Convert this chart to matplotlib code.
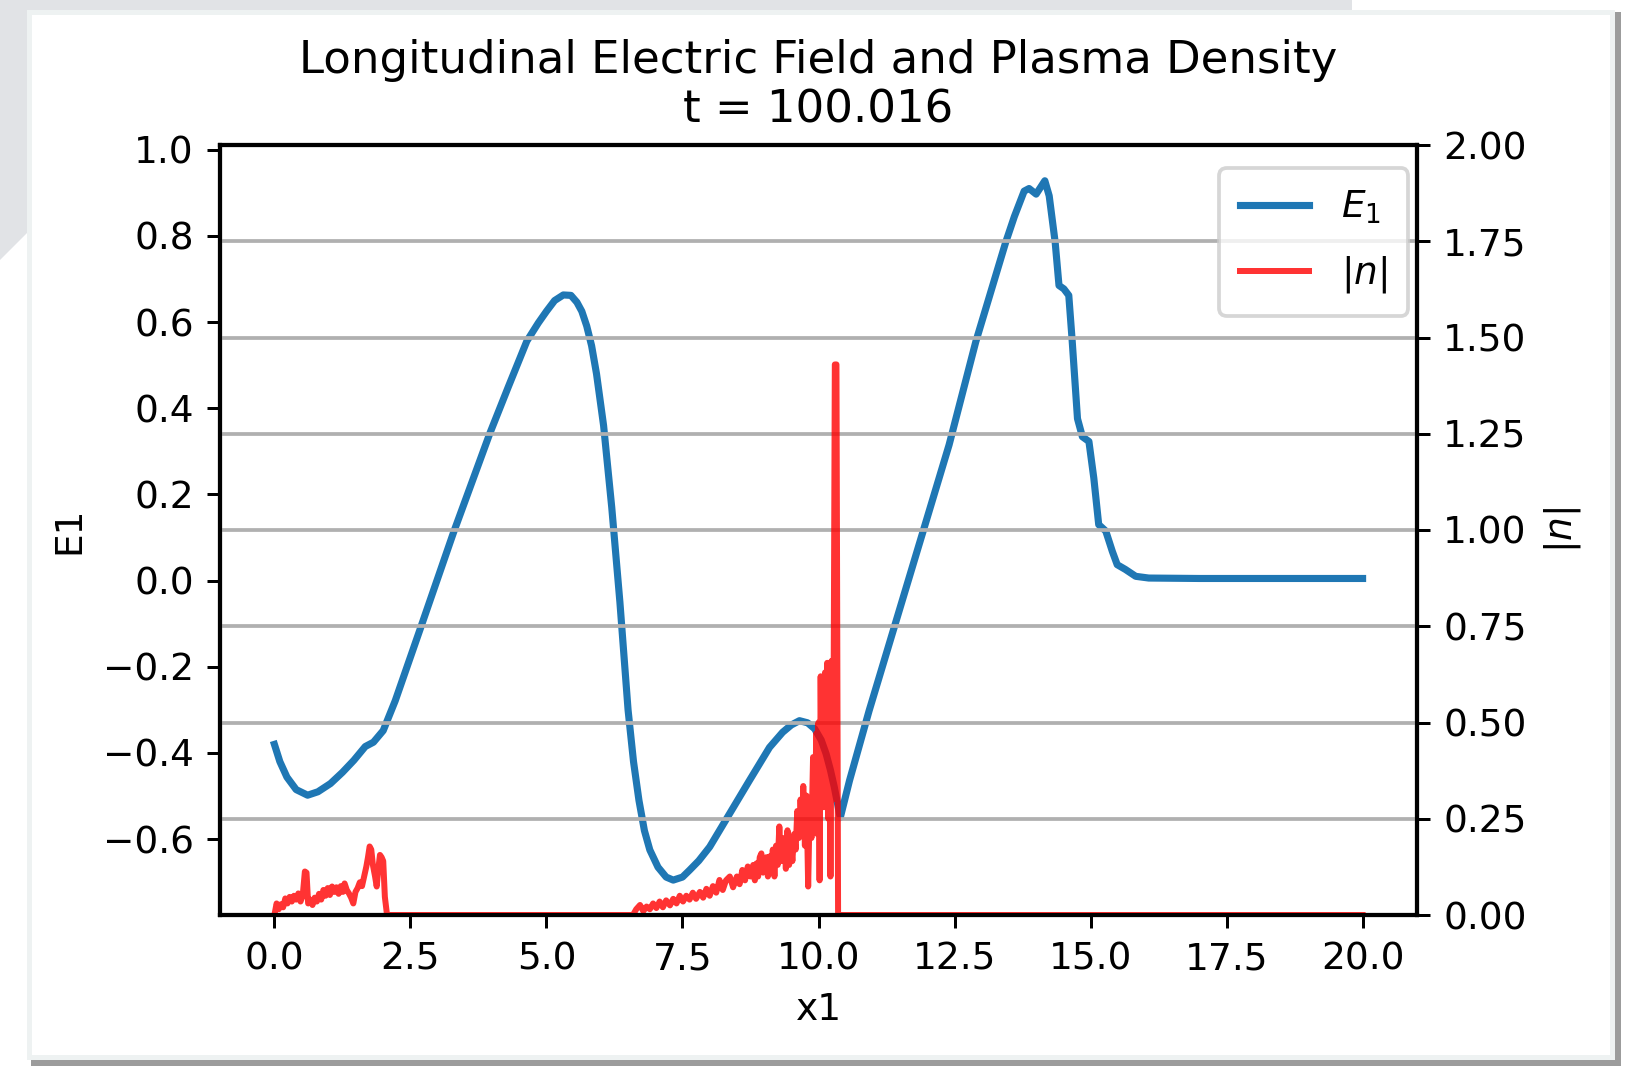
import matplotlib
matplotlib.use("Agg")
import matplotlib.pyplot as plt
from matplotlib.patches import Rectangle, Polygon

# E1 (left axis)
x_e = [0.0, 0.1, 0.23, 0.4, 0.61, 0.8, 1.03, 1.25, 1.46, 1.67, 1.82, 2.0,
       2.22, 2.68, 3.29, 3.96, 4.3, 4.64, 4.85, 5.0, 5.15, 5.31, 5.45, 5.56,
       5.65, 5.74, 5.83, 5.92, 6.05, 6.2, 6.35, 6.5, 6.6, 6.7, 6.8, 6.9, 7.05,
       7.2, 7.33, 7.5, 7.63, 7.8, 8.0, 8.37, 8.73, 9.1, 9.34, 9.5, 9.65, 9.8,
       9.93, 10.05, 10.14, 10.22, 10.29, 10.4, 10.57, 10.93, 12.40, 12.89,
       13.44, 13.6, 13.78, 13.87, 14.0, 14.16, 14.24, 14.35, 14.42, 14.51,
       14.6, 14.66, 14.76, 14.85, 14.97, 15.06, 15.15, 15.28, 15.40, 15.49,
       15.64, 15.83, 16.07, 17.0, 18.0, 19.0, 20.0]
e1 = [-0.38, -0.42, -0.456, -0.485, -0.498, -0.49, -0.471, -0.445, -0.417,
      -0.385, -0.375, -0.348, -0.279, -0.112, 0.111, 0.342, 0.45, 0.556,
      0.598, 0.625, 0.65, 0.663, 0.662, 0.646, 0.625, 0.591, 0.545, 0.48,
      0.36, 0.17, -0.05, -0.3, -0.42, -0.51, -0.58, -0.625, -0.665, -0.688,
      -0.695, -0.688, -0.672, -0.65, -0.618, -0.54, -0.464, -0.387, -0.352,
      -0.335, -0.325, -0.33, -0.344, -0.37, -0.402, -0.44, -0.479, -0.55,
      -0.464, -0.302, 0.315, 0.554, 0.785, 0.845, 0.904, 0.910, 0.897, 0.928,
      0.893, 0.785, 0.685, 0.677, 0.662, 0.561, 0.376, 0.334, 0.323, 0.238,
      0.13, 0.115, 0.068, 0.037, 0.026, 0.01, 0.006, 0.005, 0.005, 0.005,
      0.005]

# |n| (right axis)
x_n = [0.0, 0.04, 0.08, 0.12, 0.16, 0.2, 0.24, 0.28, 0.32, 0.36, 0.4, 0.44,
       0.48, 0.52, 0.56, 0.59, 0.62, 0.66, 0.7, 0.74, 0.78, 0.82, 0.86, 0.9,
       0.94, 0.98, 1.02, 1.06, 1.1, 1.14, 1.18, 1.22, 1.26, 1.29, 1.33, 1.37,
       1.41, 1.45, 1.49, 1.53, 1.57, 1.61, 1.65, 1.69, 1.72, 1.75, 1.78, 1.81,
       1.85, 1.88, 1.91, 1.94, 1.97, 2.0, 2.03, 2.07,
       6.59, 6.65, 6.72, 6.78, 6.84, 6.9, 6.96, 7.02, 7.08, 7.14, 7.2, 7.27,
       7.33, 7.39, 7.45, 7.51, 7.57, 7.63, 7.69, 7.75, 7.82, 7.88, 7.94, 8.0,
       8.06, 8.12, 8.18, 8.24, 8.3, 8.37, 8.43, 8.5, 8.55, 8.6, 8.65, 8.7,
       8.75, 8.80, 8.83, 8.86, 8.89, 8.92, 8.95, 8.98, 9.01, 9.04, 9.07, 9.10,
       9.13, 9.16, 9.19, 9.22, 9.25, 9.28, 9.31, 9.34, 9.37, 9.40, 9.43, 9.46,
       9.49, 9.52, 9.55, 9.58, 9.61, 9.64, 9.67, 9.70, 9.72, 9.75, 9.78, 9.81,
       9.84, 9.87, 9.90, 9.93, 9.96, 9.98, 10.00, 10.02, 10.04, 10.06, 10.08,
       10.10, 10.12, 10.14, 10.16, 10.18, 10.20, 10.22, 10.24, 10.26, 10.28,
       10.30, 10.33, 10.36, 20.0]
n_abs = [0.0, 0.03, 0.015, 0.028, 0.02, 0.043, 0.03, 0.047, 0.035, 0.05, 0.04,
         0.056, 0.035, 0.05, 0.113, 0.11, 0.03, 0.04, 0.026, 0.045, 0.035,
         0.055, 0.04, 0.065, 0.05, 0.07, 0.052, 0.074, 0.06, 0.072, 0.055,
         0.075, 0.06, 0.082, 0.065, 0.056, 0.045, 0.03, 0.06, 0.07, 0.085,
         0.075, 0.1, 0.126, 0.15, 0.178, 0.17, 0.13, 0.1, 0.074, 0.12, 0.156,
         0.15, 0.14, 0.047, 0.0,
         0.0, 0.015, 0.026, 0.01, 0.022, 0.015, 0.03, 0.018, 0.035, 0.02,
         0.038, 0.025, 0.042, 0.03, 0.05, 0.035, 0.05, 0.04, 0.058, 0.042,
         0.06, 0.045, 0.068, 0.05, 0.075, 0.058, 0.091, 0.065, 0.09, 0.1,
         0.072, 0.1, 0.08, 0.117, 0.09, 0.126, 0.1, 0.13, 0.09, 0.134, 0.1,
         0.15, 0.16, 0.11, 0.126, 0.15, 0.1, 0.152, 0.12, 0.17, 0.1, 0.18,
         0.13, 0.23, 0.14, 0.16, 0.2, 0.12, 0.22, 0.13, 0.19, 0.14, 0.21, 0.17,
         0.27, 0.2, 0.3, 0.22, 0.335, 0.18, 0.31, 0.074, 0.3, 0.2, 0.41, 0.25,
         0.472, 0.21, 0.5, 0.09, 0.62, 0.3, 0.6, 0.28, 0.63, 0.35, 0.655, 0.25,
         0.64, 0.1, 0.66, 0.3, 0.66, 1.43, 1.43, 0.0, 0.0]

W, H = 1639, 1066
fig = plt.figure(figsize=(W / 270, H / 270), dpi=270, facecolor="white")
plt.rcParams["axes.linewidth"] = 1.1


def px(x, y):
    return (x / W, 1 - y / H)


# screenshot frame around the chart
fig.add_artist(Polygon([px(0, 0), px(1352, 0), px(1352, 10), px(27, 10),
                        px(27, 233), px(0, 260)], closed=True,
                       transform=fig.transFigure, facecolor="#e1e3e6",
                       edgecolor="none", zorder=-10))
fig.add_artist(Rectangle(px(31, 1066), 1590 / W, 1054 / H, transform=fig.transFigure,
                         facecolor="#9c9c9c", edgecolor="none", zorder=-9))
fig.add_artist(Rectangle(px(27, 1060), 1588 / W, 1050 / H, transform=fig.transFigure,
                         facecolor="#eef2f2", edgecolor="none", zorder=-8))
fig.add_artist(Rectangle(px(32, 1055), 1578 / W, 1040 / H, transform=fig.transFigure,
                         facecolor="white", edgecolor="none", zorder=-7))

ax = fig.add_axes([220 / W, 1 - 915 / H, 1197 / W, 770 / H])
ax.patch.set_alpha(0)
l1, = ax.plot(x_e, e1, color="C0", lw=1.9, label="$E_1$")
ax.set_xlim(-1, 21)
ax.set_ylim(-0.776, 1.011)
ax.set_xlabel("x1")
ax.set_ylabel("E1")
ax.set_title("Longitudinal Electric Field and Plasma Density\nt = 100.016")

ax2 = ax.twinx()
l2, = ax2.plot(x_n, n_abs, color="r", alpha=0.8, lw=1.6, label="$|n|$")
ax2.set_ylim(0, 2)
ax2.set_ylabel("$|n|$")
ax2.grid(True, lw=1.0)
ax2.legend(handles=[l1, l2], loc="upper right", bbox_to_anchor=(0.9925, 0.970),
           borderaxespad=0, labelspacing=0.75, borderpad=0.55,
           handlelength=1.85, handletextpad=0.85)

fig.savefig("out.png", dpi=270)
